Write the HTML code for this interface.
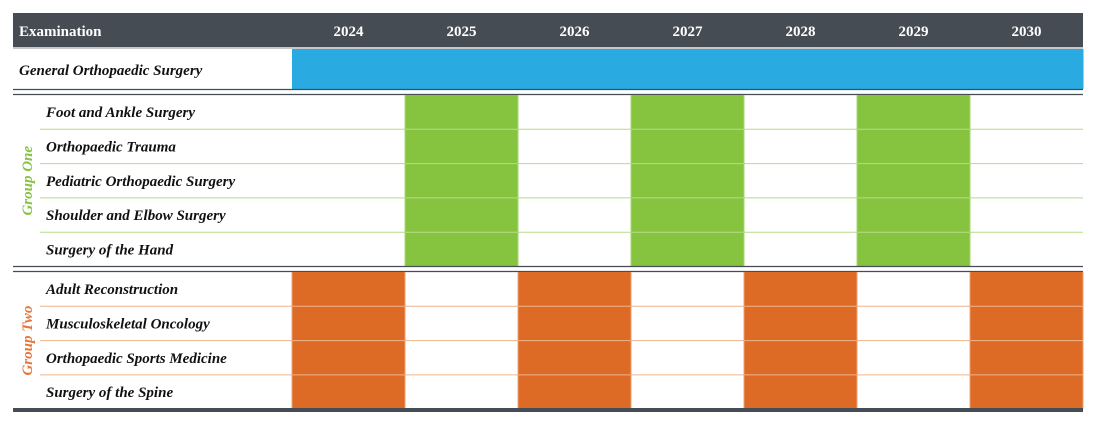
<!DOCTYPE html>
<html><head><meta charset="utf-8"><style>
body{margin:0;background:#fff;width:1096px;height:431px;overflow:hidden}
svg text{font-family:"Liberation Serif",serif}
</style></head><body>
<svg id="c" width="1096" height="431" xmlns="http://www.w3.org/2000/svg"></svg>
<script>
const years=["2024","2025","2026","2027","2028","2029","2030"];
const generalRow=["General Orthopaedic Surgery"];
const generalValues=[1,1,1,1,1,1,1];
const groupOneRows=["Foot and Ankle Surgery","Orthopaedic Trauma","Pediatric Orthopaedic Surgery","Shoulder and Elbow Surgery","Surgery of the Hand"];
const groupOneValues=[0,1,0,1,0,1,0];
const groupTwoRows=["Adult Reconstruction","Musculoskeletal Oncology","Orthopaedic Sports Medicine","Surgery of the Spine"];
const groupTwoValues=[1,0,1,0,1,0,1];

const svg=document.getElementById('c');
const NS="http://www.w3.org/2000/svg";
function mk(t,a,p){const e=document.createElementNS(NS,t);for(const k in a)e.setAttribute(k,a[k]);(p||svg).appendChild(e);return e;}
const X0=13,X1=1083,LW=279,CW=(X1-X0-LW)/years.length;
const colX=i=>X0+LW+i*CW;

// header
let h=mk('rect',{x:X0,y:13,width:X1-X0,height:34,fill:'#454c54'});


let t=mk('text',{x:19,y:36,fill:'#fff','font-size':15,'font-weight':'bold'});t.textContent='Examination';


years.forEach((y,i)=>{
 const e=mk('text',{x:colX(i)+CW/2,y:36,fill:'#fff','font-size':15,'font-weight':'bold','text-anchor':'middle'});
 e.textContent=y;
 
 
});
mk('line',{x1:X0,x2:X1,y1:48,y2:48,stroke:'#8a9097','stroke-width':1});

function label(txt,x,y,name){
 const e=mk('text',{x:x,y:y,fill:'#111','font-size':15,'font-weight':'bold','font-style':'italic'});
 e.textContent=txt;
 
 
}
// general row
generalValues.forEach((v,i)=>{ if(v){const r=mk('rect',{x:colX(i),y:49,width:CW+0.5,height:40,fill:'#29abe2'});
 
 }});
label(generalRow[0],19,75,'general-orthopaedic-surgery-label');
function dbl(y){mk('line',{x1:X0,x2:X1,y1:y,y2:y,stroke:'#454c54','stroke-width':1.3});mk('line',{x1:X0,x2:X1,y1:y+5,y2:y+5,stroke:'#454c54','stroke-width':1.3});}
dbl(89.5);

function group(rows,vals,y0,rh,fill,lineCol,cellLine,gname,gcol){
 const y1=y0+rh*rows.length;
 vals.forEach((v,i)=>{ if(v){const r=mk('rect',{x:colX(i),y:y0,width:CW,height:y1-y0,fill:fill});
  
  }});
 rows.forEach((r,k)=>{
  const y=y0+k*rh;
  if(k>0){
   mk('line',{x1:40,x2:X1,y1:y,y2:y,stroke:lineCol,'stroke-width':1});
  }
  label(r,46,y+rh/2+5,r.toLowerCase().replace(/ /g,'-')+'-label');
 });
 vals.forEach((v,i)=>{ if(v) mk('line',{x1:colX(i)+CW,x2:colX(i)+CW,y1:y0,y2:y1,stroke:cellLine,'stroke-width':1});
  if(v) mk('line',{x1:colX(i),x2:colX(i),y1:y0,y2:y1,stroke:cellLine,'stroke-width':1});});
 const cy=(y0+y1)/2;
 const g=mk('text',{x:0,y:0,fill:gcol,'font-size':15,'font-weight':'bold','font-style':'italic','text-anchor':'middle',transform:`translate(32,${cy}) rotate(-90)`});
 g.textContent=gname==='group-one'?'Group One':'Group Two';
 
 
}
group(groupOneRows,groupOneValues,95,34.3,'#86c440','#b5dc88','#a9d670','group-one','#86c440');
dbl(266.5);
group(groupTwoRows,groupTwoValues,272,34.3,'#dd6b26','#f0b48c','#f0a070','group-two','#e8763a');
const b=mk('rect',{x:X0,y:408,width:X1-X0,height:4,fill:'#454c54'});


</script>
</body></html>
